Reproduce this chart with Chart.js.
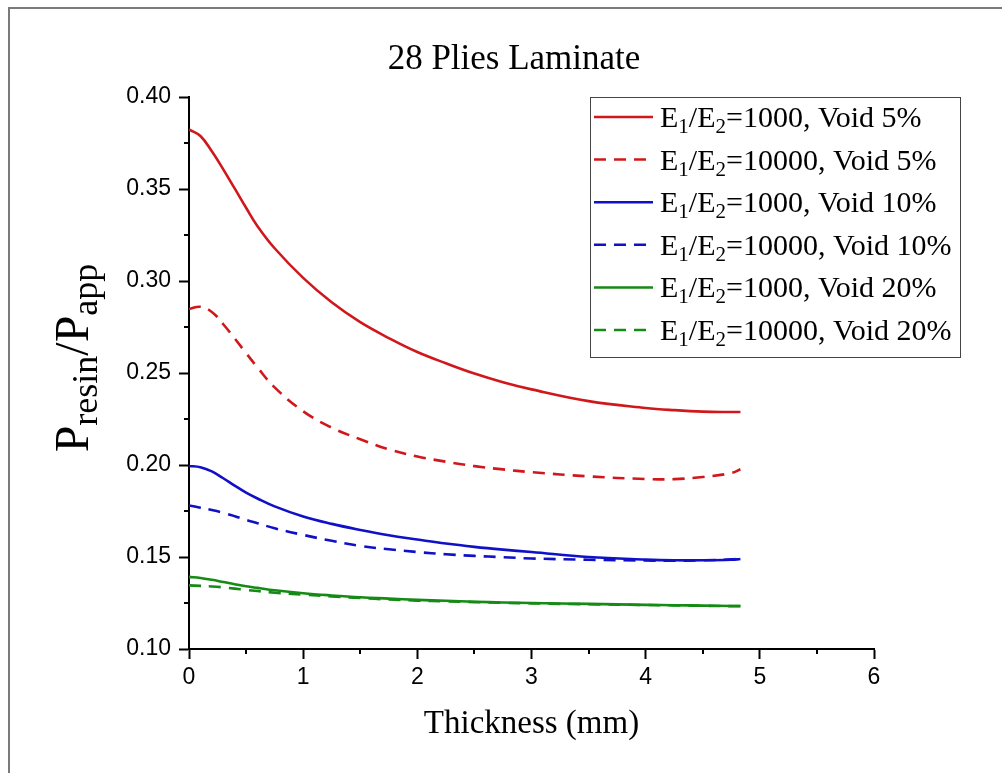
<!DOCTYPE html>
<html>
<head>
<meta charset="utf-8">
<script src="https://cdn.jsdelivr.net/npm/chart.js@4.4.1/dist/chart.umd.min.js"></script>
<style>
  html, body { margin: 0; padding: 0; background: #ffffff; }
  #wrap { position: relative; width: 1002px; height: 773px; }
  canvas { display: block; }
</style>
</head>
<body>
<div id="wrap"><canvas id="c" width="1002" height="773"></canvas></div>
<script>
// ---- data ----
const chartTitle = "28 Plies Laminate";
const xAxisTitle = "Thickness (mm)";
const thickness = [0, 0.1, 0.2, 0.3, 0.4, 0.5, 0.6, 0.75, 1.0, 1.25, 1.5, 1.75, 2.0, 2.25, 2.5, 2.75, 3.0, 3.5, 4.0, 4.25, 4.5, 4.75, 4.83];
const ratio1000Void5   = [0.3824, 0.3788, 0.3705, 0.3607, 0.3503, 0.3398, 0.3298, 0.3178, 0.3017, 0.2884, 0.2776, 0.2690, 0.2614, 0.2553, 0.2497, 0.2450, 0.2411, 0.2347, 0.2310, 0.2298, 0.2290, 0.2288, 0.2288];
const ratio10000Void5  = [0.2848, 0.2860, 0.2832, 0.2765, 0.2688, 0.2608, 0.2530, 0.2422, 0.2292, 0.2203, 0.2140, 0.2085, 0.2046, 0.2018, 0.1994, 0.1976, 0.1961, 0.1938, 0.1924, 0.1923, 0.1935, 0.1956, 0.1977];
const ratio1000Void10  = [0.1995, 0.1988, 0.1965, 0.1928, 0.1888, 0.1850, 0.1818, 0.1775, 0.1720, 0.1680, 0.1647, 0.1618, 0.1595, 0.1573, 0.1555, 0.1540, 0.1527, 0.1500, 0.1486, 0.1482, 0.1482, 0.1485, 0.1489];
const ratio10000Void10 = [0.1780, 0.1768, 0.1755, 0.1740, 0.1722, 0.1702, 0.1684, 0.1656, 0.1620, 0.1588, 0.1560, 0.1542, 0.1527, 0.1515, 0.1506, 0.1499, 0.1492, 0.1485, 0.1481, 0.1480, 0.1482, 0.1487, 0.1491];
const ratio1000Void20  = [0.1392, 0.1386, 0.1376, 0.1364, 0.1352, 0.1341, 0.1332, 0.1319, 0.1303, 0.1291, 0.1281, 0.1274, 0.1267, 0.1262, 0.1257, 0.1253, 0.1250, 0.1245, 0.1240, 0.1238, 0.1236, 0.1234, 0.1234];
const ratio10000Void20 = [0.1346, 0.1343, 0.1340, 0.1335, 0.1328, 0.1321, 0.1315, 0.1306, 0.1295, 0.1286, 0.1277, 0.1269, 0.1263, 0.1259, 0.1255, 0.1251, 0.1248, 0.1243, 0.1239, 0.1237, 0.1235, 0.1233, 0.1233];
const ratioValues = ["1000", "10000", "1000", "10000", "1000", "10000"];
const voidLabels  = ["Void 5%", "Void 5%", "Void 10%", "Void 10%", "Void 20%", "Void 20%"];
const xTicks = [0, 1, 2, 3, 4, 5, 6];
const yTicks = [0.10, 0.15, 0.20, 0.25, 0.30, 0.35, 0.40];

// ---- styles ----
const RED = '#d0181c', BLUE = '#1010c8', GREEN = '#158a15';
const seriesValues = [ratio1000Void5, ratio10000Void5, ratio1000Void10, ratio10000Void10, ratio1000Void20, ratio10000Void20];
const seriesColors = [RED, RED, BLUE, BLUE, GREEN, GREEN];
const seriesDashed = [false, true, false, true, false, true];
const DASH = [12, 8];
const SERIF = '"Liberation Serif", "Times New Roman", serif';
const SANS = '"Liberation Sans", Arial, sans-serif';

const datasets = seriesValues.map((vals, i) => ({
  label: 'E1/E2=' + ratioValues[i] + ', ' + voidLabels[i],
  data: thickness.map((t, k) => ({ x: t, y: vals[k] })),
  borderColor: seriesColors[i],
  backgroundColor: seriesColors[i],
  borderWidth: 2.6,
  borderDash: seriesDashed[i] ? DASH : [],
  pointRadius: 0,
  fill: false,
  tension: 0.4
}));

function drawRuns(ctx, runs, x, y) {
  let cx = x;
  for (const [t, size, dy] of runs) {
    ctx.font = size + 'px ' + SERIF;
    ctx.fillText(t, cx, y + dy);
    cx += ctx.measureText(t).width;
  }
  return cx - x;
}
function runsWidth(ctx, runs) {
  let w = 0;
  for (const [t, size] of runs) { ctx.font = size + 'px ' + SERIF; w += ctx.measureText(t).width; }
  return w;
}

const decor = {
  id: 'decor',
  beforeDraw(chart) {
    const ctx = chart.ctx;
    ctx.save();
    ctx.fillStyle = '#ffffff';
    ctx.fillRect(0, 0, chart.width, chart.height);
    ctx.restore();
  },
  afterDraw(chart) {
    const ctx = chart.ctx;
    const xs = chart.scales.x, ys = chart.scales.y;
    const area = chart.chartArea;
    ctx.save();
    // outer frame
    ctx.strokeStyle = '#7a7a7a';
    ctx.lineWidth = 2;
    ctx.beginPath();
    ctx.moveTo(9, chart.height);
    ctx.lineTo(9, 8);
    ctx.lineTo(chart.width, 8);
    ctx.stroke();

    // minor ticks
    ctx.strokeStyle = '#000';
    ctx.lineWidth = 2;
    ctx.beginPath();
    for (let i = 0; i < yTicks.length - 1; i++) {
      const py = Math.round(ys.getPixelForValue((yTicks[i] + yTicks[i + 1]) / 2));
      ctx.moveTo(area.left - 5, py); ctx.lineTo(area.left, py);
    }
    for (let i = 0; i < xTicks.length - 1; i++) {
      const px = Math.round(xs.getPixelForValue((xTicks[i] + xTicks[i + 1]) / 2));
      ctx.moveTo(px, area.bottom); ctx.lineTo(px, area.bottom + 5);
    }
    ctx.stroke();

    // chart title
    ctx.fillStyle = '#000';
    ctx.textBaseline = 'alphabetic';
    ctx.textAlign = 'center';
    ctx.font = '35px ' + SERIF;
    ctx.fillText(chartTitle, 514, 69);
    // x axis title
    ctx.font = '33px ' + SERIF;
    ctx.fillText(xAxisTitle, (area.left + area.right) / 2, 733);

    // y axis title with subscripts
    ctx.textAlign = 'left';
    const yRuns = [['P', 48, 0], ['resin', 36, 9], ['/P', 48, 0], ['app', 36, 9]];
    const yw = runsWidth(ctx, yRuns);
    ctx.save();
    ctx.translate(88, 358);
    ctx.rotate(-Math.PI / 2);
    drawRuns(ctx, yRuns, -yw / 2, 0);
    ctx.restore();

    // legend box
    const lx = 590, ly = 97, lw = 370, lh = 260;
    ctx.strokeStyle = '#444';
    ctx.lineWidth = 1;
    ctx.strokeRect(lx + 0.5, ly + 0.5, lw, lh);
    const rowStep = 42.6, row0 = 117;
    chart.data.datasets.forEach((ds, i) => {
      const cy = row0 + i * rowStep;
      ctx.save();
      ctx.strokeStyle = ds.borderColor;
      ctx.lineWidth = 2.5;
      ctx.setLineDash(ds.borderDash || []);
      ctx.beginPath();
      ctx.moveTo(594, cy); ctx.lineTo(653, cy);
      ctx.stroke();
      ctx.restore();
      ctx.fillStyle = '#000';
      drawRuns(ctx, [['E', 30, 0], ['1', 21, 6], ['/E', 30, 0], ['2', 21, 6], ['=' + ratioValues[i] + ', ' + voidLabels[i], 30, 0]], 660, cy + 10);
    });
    ctx.restore();
  }
};

new Chart(document.getElementById('c'), {
  type: 'line',
  data: { datasets },
  plugins: [decor],
  options: {
    responsive: false,
    animation: false,
    devicePixelRatio: 1,
    layout: { padding: { left: 0, right: 128, top: 97, bottom: 0 } },
    plugins: { legend: { display: false }, title: { display: false }, tooltip: { enabled: false } },
    scales: {
      x: {
        type: 'linear',
        min: xTicks[0], max: xTicks[xTicks.length - 1],
        afterFit(s) { s.height = 124; },
        afterBuildTicks(s) { s.ticks = xTicks.map(v => ({ value: v })); },
        ticks: { color: '#000', font: { family: SANS, size: 23 }, padding: 5, maxRotation: 0,
                 callback: v => String(v) },
        grid: { drawOnChartArea: false, drawTicks: true, tickLength: 10, tickWidth: 2, tickColor: '#000' },
        border: { display: true, color: '#000', width: 2 }
      },
      y: {
        type: 'linear',
        min: yTicks[0], max: yTicks[yTicks.length - 1],
        afterFit(s) { s.width = 189; },
        afterBuildTicks(s) { s.ticks = yTicks.map(v => ({ value: v })); },
        ticks: { color: '#000', font: { family: SANS, size: 23 }, padding: 8,
                 callback: v => Number(v).toFixed(2) },
        grid: { drawOnChartArea: false, drawTicks: true, tickLength: 10, tickWidth: 2, tickColor: '#000' },
        border: { display: true, color: '#000', width: 2 }
      }
    }
  }
});
</script>
</body>
</html>
